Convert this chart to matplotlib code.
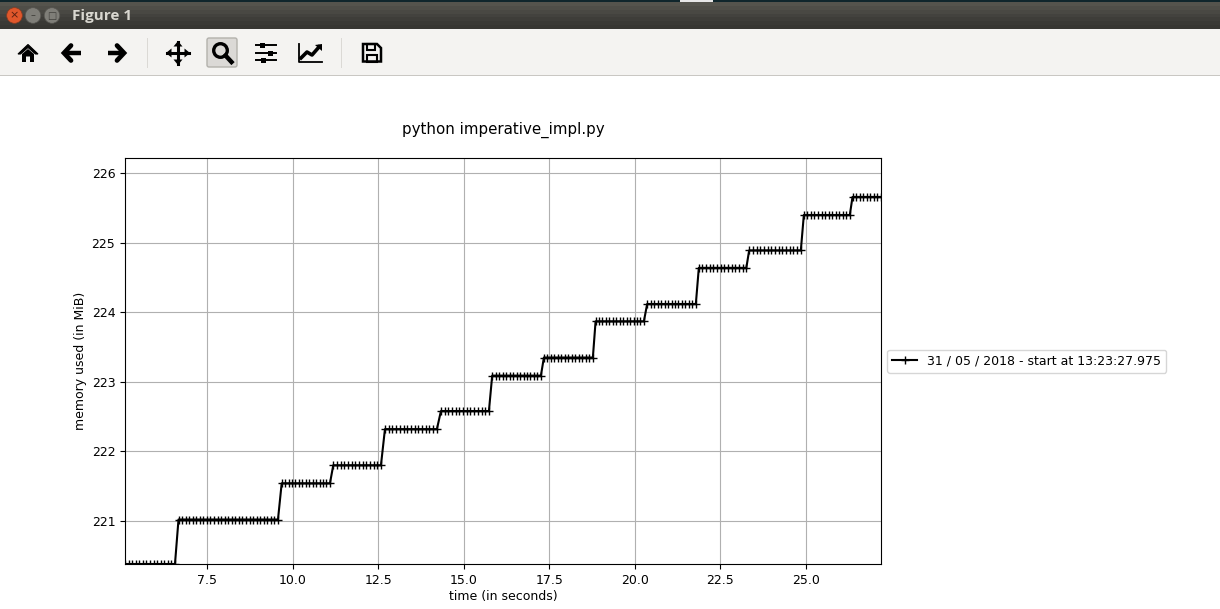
import matplotlib
matplotlib.use("Agg")
import matplotlib.pyplot as plt
from matplotlib.patches import Rectangle, Circle, Polygon, FancyBboxPatch

levels = [220.38, 221.02, 221.54, 221.80, 222.32, 222.58, 223.09, 223.35,
          223.87, 224.12, 224.64, 224.89, 225.40, 225.66]
t0 = [5.105, 5.209, 5.314, 5.418, 5.522, 5.627, 5.731, 5.835, 5.940, 6.044, 6.148, 6.253, 6.357, 6.461, 6.565]
t1 = [6.668, 6.772, 6.876, 6.979, 7.083, 7.187, 7.291, 7.394, 7.498, 7.602, 7.706, 7.810, 7.913, 8.017, 8.121,
      8.225, 8.328, 8.432, 8.536, 8.640, 8.743, 8.847, 8.951, 9.055, 9.158, 9.262, 9.366, 9.470, 9.574]
t2 = [9.682, 9.783, 9.883, 9.984, 10.085, 10.186, 10.286, 10.387, 10.488, 10.589, 10.689, 10.790, 10.891, 10.991, 11.092]
t3 = [11.189, 11.296, 11.403, 11.510, 11.618, 11.725, 11.832, 11.939, 12.046, 12.153, 12.261, 12.368, 12.475, 12.582]
t4 = [12.699, 12.807, 12.916, 13.024, 13.133, 13.241, 13.350, 13.458, 13.567, 13.675, 13.784, 13.892, 14.000, 14.109, 14.217]
t5 = [14.334, 14.442, 14.550, 14.658, 14.765, 14.873, 14.981, 15.089, 15.197, 15.305, 15.412, 15.520, 15.628, 15.736]
t6 = [15.832, 15.934, 16.035, 16.137, 16.239, 16.340, 16.442, 16.544, 16.645, 16.747, 16.848, 16.950, 17.052, 17.153, 17.255]
t7 = [17.342, 17.444, 17.546, 17.649, 17.751, 17.853, 17.955, 18.057, 18.160, 18.262, 18.364, 18.466, 18.569, 18.671, 18.773]
t8 = [18.852, 18.953, 19.054, 19.154, 19.255, 19.356, 19.457, 19.558, 19.658, 19.759, 19.860, 19.961, 20.061, 20.162, 20.263]
t9 = [20.359, 20.461, 20.562, 20.664, 20.765, 20.867, 20.969, 21.070, 21.172, 21.273, 21.375, 21.477, 21.578, 21.680, 21.781]
t10 = [21.868, 21.975, 22.082, 22.188, 22.295, 22.402, 22.509, 22.615, 22.722, 22.829, 22.936, 23.042, 23.149, 23.256]
t11 = [23.338, 23.446, 23.554, 23.662, 23.770, 23.877, 23.985, 24.093, 24.201, 24.309, 24.417, 24.524, 24.632, 24.740, 24.848]
t12 = [24.936, 25.039, 25.143, 25.246, 25.349, 25.453, 25.556, 25.659, 25.762, 25.866, 25.969, 26.072, 26.176, 26.279]
t13 = [26.358, 26.462, 26.566, 26.670, 26.774, 26.878, 26.982, 27.086, 27.190]
step_times = [t0, t1, t2, t3, t4, t5, t6, t7, t8, t9, t10, t11, t12, t13]

times, memory = [], []
for lev, ts in zip(levels, step_times):
    times += ts
    memory += [lev] * len(ts)

W, H = 1220, 609
plt.rcParams["font.size"] = 9
fig = plt.figure(figsize=(W / 100, H / 100), dpi=100, facecolor="white")

# window chrome, drawn in pixel coordinates
ui = fig.add_axes([0, 0, 1, 1], zorder=0)
ui.set_xlim(0, W)
ui.set_ylim(H, 0)
ui.axis("off")
for i, shade in enumerate(("#55544d", "#4f4e48", "#494843", "#43423e", "#3e3d39", "#3a3935", "#373632")):
    ui.add_patch(Rectangle((0, 2 + i * 27 / 7), W, 27 / 7 + 0.5, fc=shade, ec="none", zorder=1))
ui.add_patch(Rectangle((0, 0), W, 2, fc="#10262c", ec="none", zorder=2))
ui.add_patch(Rectangle((680, 0), 33, 1.5, fc="#e8e8e8", ec="none", zorder=3))
ui.add_patch(Rectangle((0, 29), W, 46, fc="#f4f3f1", ec="none", zorder=1))
ui.add_patch(Rectangle((0, 75), W, 1, fc="#c9c7c3", ec="none", zorder=2))
ui.add_patch(Circle((14.5, 15.5), 7.8, fc="#e0572b", ec="#8a3a20", lw=0.5, zorder=3))
ui.text(14.5, 15.5, "×", color="#5a2010", ha="center", va="center", fontsize=8, zorder=4)
for cx, sym in ((33, "–"), (52, "□")):
    ui.add_patch(Circle((cx, 15.5), 7.8, fc="#7f7e78", ec="#55544f", lw=0.5, zorder=3))
    ui.text(cx, 15.5, sym, color="#3e3d39", ha="center", va="center", fontsize=7, zorder=4)
ui.text(72, 16, "Figure 1", color="#d9d7d0", ha="left", va="center", fontsize=11,
        family="Open Sans", fontweight="bold", zorder=4)
for sx in (147, 341):
    ui.add_patch(Rectangle((sx, 38), 1, 30, fc="#dbd9d5", ec="none", zorder=2))
ui.add_patch(FancyBboxPatch((207, 38), 30, 29, boxstyle="round,pad=0,rounding_size=2",
                            fc="#dbd9d6", ec="#b3b1ac", lw=1, zorder=2))
K = "black"
# home
ui.add_patch(Polygon([(18, 54), (28, 44.5), (38, 54), (35.5, 54), (28, 47.5), (20.5, 54)], fc=K, ec=K, lw=0.8, zorder=3))
ui.add_patch(Polygon([(22, 54), (28, 49), (34, 54), (34, 62), (30, 62), (30, 56.5), (26, 56.5), (26, 62), (22, 62)],
                     fc=K, ec="none", zorder=3))
# back / forward
for cx, d in ((72, -1), (116, 1)):
    ui.plot([cx - d * 8.5, cx + d * 7], [53, 53], color=K, lw=3.2, solid_capstyle="butt", zorder=3)
    ui.plot([cx + d, cx + d * 8, cx + d], [45.5, 53, 60.5], color=K, lw=3.4, solid_capstyle="round",
            solid_joinstyle="miter", zorder=3)
# move
ui.plot([167, 189], [53, 53], color=K, lw=2.2, zorder=3)
ui.plot([178, 178], [42, 64], color=K, lw=2.2, zorder=3)
for pts in ([(178, 41), (173.5, 46.5), (182.5, 46.5)], [(178, 65), (173.5, 59.5), (182.5, 59.5)],
            [(166, 53), (171.5, 48.5), (171.5, 57.5)], [(190, 53), (184.5, 48.5), (184.5, 57.5)]):
    ui.add_patch(Polygon(pts, fc=K, ec="none", zorder=3))
# zoom
ui.add_patch(Circle((220.5, 50.5), 6.8, fc="none", ec=K, lw=2.4, zorder=3))
ui.plot([225.5, 231.5], [55.5, 62], color=K, lw=3.2, zorder=3)
# sliders
for yy, xx in ((45, 262), (53, 270), (60, 263)):
    ui.plot([256, 276], [yy, yy], color=K, lw=1.4, zorder=3)
    ui.add_patch(Rectangle((xx - 2.5, yy - 2.5), 5, 5, fc=K, ec="none", zorder=3))
# lines
ui.plot([298.5, 298.5, 322], [44, 62, 62], color=K, lw=1.3, zorder=3)
ui.plot([301, 307, 312, 319], [58, 52, 55, 47], color=K, lw=2.6, zorder=3)
ui.add_patch(Polygon([(322, 44), (322, 51), (315, 45)], fc=K, ec="none", zorder=3))
# save
ui.add_patch(Polygon([(363, 44), (377, 44), (381, 48), (381, 61.5), (363, 61.5)], fc="none", ec=K, lw=1.8, zorder=3))
ui.add_patch(Rectangle((367, 44), 8, 6, fc="none", ec=K, lw=1.5, zorder=3))
ui.add_patch(Rectangle((367, 54.5), 10, 7, fc="none", ec=K, lw=1.5, zorder=3))

# the plot itself
ax = fig.add_axes([125 / W, 1 - 564 / H, 756 / W, 406 / H], zorder=2)
ax.plot(times, memory, color="black", marker="+", lw=1.5,
        label="31 / 05 / 2018 - start at 13:23:27.975")
ax.set_xlim(5.105, 27.19)
ax.set_ylim(220.38, 226.22)
ax.grid(True)
ax.set_xlabel("time (in seconds)", labelpad=2.6)
ax.set_ylabel("memory used (in MiB)", labelpad=3.3)
ax.set_title("python imperative_impl.py", pad=17.5, fontsize=10.8)
ax.legend(loc="center left", bbox_to_anchor=(1, 0.5))

fig.savefig("out.png", dpi=100)
